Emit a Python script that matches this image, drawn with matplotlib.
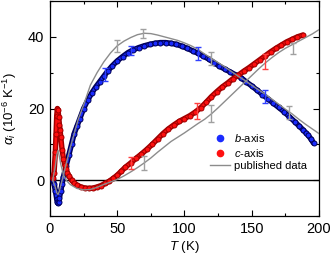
import matplotlib
matplotlib.use('Agg')
import matplotlib.pyplot as plt
import matplotlib.patheffects as pe
from matplotlib.ticker import MultipleLocator
from matplotlib.lines import Line2D

plt.rcParams['font.family'] = 'Liberation Sans'
plt.rcParams['mathtext.fontset'] = 'custom'
plt.rcParams['mathtext.rm'] = 'Liberation Sans'
plt.rcParams['mathtext.it'] = 'Liberation Sans:italic'

# b-axis (measured)
T_b = [2, 3, 4, 5, 5.5, 6, 6.5, 7, 8, 9, 10, 12, 14, 16, 18, 20, 22, 25, 28, 31, 34,
       37, 40, 43, 46, 50, 54, 58, 62, 66, 70, 74, 78, 82, 86, 90, 94, 98, 102, 106,
       110, 114, 118, 122, 126, 130, 134, 138, 142, 146, 150, 154, 158, 162, 166,
       170, 174, 178, 182, 185, 188, 190, 192, 194, 196]
a_b = [0, -1, -3, -5.2, -6.2, -6.5, -6, -5, -3, -1, 1, 4, 7, 10, 13, 15, 17, 20,
       22.3, 24.3, 26, 27.5, 29, 30.5, 31.8, 33.3, 34.5, 35.6, 36.4, 37, 37.5, 37.9,
       38.2, 38.4, 38.4, 38.2, 37.9, 37.4, 36.8, 36.1,
       35.4, 34.6, 33.8, 32.8, 31.8, 31, 30.2, 29.4, 28.6, 27.4, 26.3, 25.1, 23.9,
       22.7, 21.5, 20.3, 19.1, 17.7, 16.3, 15.2, 14.1, 13.3, 12.5, 11.5, 10.3]

# c-axis (measured)
T_c = [2, 3, 4, 4.5, 5, 5.5, 6, 6.5, 7, 7.5, 8, 9, 10, 11, 12, 13, 14, 16, 18, 20,
       23, 26, 29, 32, 35, 38, 41, 44, 47, 50, 53, 56, 60, 64, 68, 72, 76, 80, 84,
       88, 92, 96, 100, 104, 108, 112, 116, 120, 124, 128, 132, 136, 140, 144, 148,
       152, 156, 160, 164, 168, 172, 176, 180, 184, 188]
a_c = [0.5, 2, 8, 13, 18, 20, 19.5, 17.5, 15.5, 14, 12, 8.5, 6, 4.3, 3, 2, 1.2, 0,
       -0.8, -1.4, -1.9, -2.2, -2.3, -2.2, -1.9, -1.5, -0.9, -0.3, 0.5, 1.4, 2.5,
       3.6, 4.8, 6.1, 7.3, 8.6, 10, 11.5, 13, 14.3, 15.4, 16.4, 17.2, 18, 19, 20.2,
       21.7, 23.3, 24.7, 26, 27.1, 28.3, 29.3, 30.4, 31.4, 32.5, 33.6, 34.7, 35.8,
       36.8, 37.7, 38.6, 39.3, 40, 40.5]

# published b-axis
T_pb = [2, 4, 5, 6, 7, 8, 10, 12, 15, 18, 21, 25, 30, 35, 40, 45, 50, 55, 60, 65,
        70, 75, 80, 85, 90, 95, 100, 105, 110, 115, 120, 125, 130, 135, 140, 145,
        150, 155, 160, 165, 170, 175, 180, 185, 190, 195, 200]
a_pb = [0, -2, -3.5, -4, -3, -1.5, 1.5, 4.5, 9, 13, 17, 21, 26.5, 30, 33, 35.5,
        37.5, 38.8, 39.8, 40.6, 41, 40.9, 40.5, 40, 39.5, 39, 38.3, 37.5, 36.5,
        35.2, 34, 32.8, 31.6, 30.3, 29, 27.8, 26.5, 25.2, 24, 22.6, 21.2, 19.8,
        18.5, 17, 15.6, 14.3, 13]

# published c-axis
T_pc = [2, 4, 5, 6, 7, 8, 10, 12, 15, 20, 25, 30, 35, 40, 45, 50, 55, 60, 65, 70,
        75, 80, 85, 90, 95, 100, 105, 110, 115, 120, 125, 130, 135, 140, 145, 150,
        155, 160, 165, 170, 175, 180, 185, 190, 195, 200]
a_pc = [0, 4, 7, 8.3, 6.5, 4.5, 1.5, 0, -1.2, -2.3, -2.7, -2.6, -2, -1.2, -0.5,
        0.2, 1.2, 2.3, 3.5, 4.8, 6.2, 7.8, 9.3, 10.8, 12, 13.2, 14.5, 15.8, 17,
        18.5, 20.2, 22, 23.8, 25.6, 27.4, 29.2, 31, 32.7, 34.2, 35.6, 36.8, 37.8,
        38.8, 39.8, 40.8, 42]

# error bars
eb_T_b = [41, 60, 110, 160]
eb_a_b = [29.6, 36.2, 35.4, 23.3]
eb_e_b = [1.8, 1.2, 1.8, 1.9]
eb_T_c = [60, 109, 160]
eb_a_c = [4.8, 19.3, 33.2]
eb_e_c = [1.7, 2.2, 2.1]
eb_T_p = [50, 69, 120, 178, 70, 120, 181]
eb_a_p = [37.5, 41, 34, 19, 4.8, 18.7, 36.8]
eb_e_p = [1.6, 1.2, 1.8, 1.8, 2, 2.4, 1.6]

blue, navy = '#1a2bff', '#00005a'
red, dred = '#ff1010', '#a00000'
grey = '#8c8c8c'

fig = plt.figure(figsize=(3.32, 2.57), dpi=100)
ax = fig.add_axes([0.1506, 0.1595, 0.8102, 0.8366])

ax.axhline(0, color='black', lw=1.0, zorder=1)

# measured data: thick band with dark rim, plus circle markers
ax.plot(T_b, a_b, '-', color=blue, lw=1.8, solid_capstyle='round', zorder=3,
        path_effects=[pe.Stroke(linewidth=3.9, foreground=navy), pe.Normal()])
ax.plot(T_b, a_b, 'o', ms=3.6, mfc=blue, mec=navy, mew=0.7, zorder=3)
ax.plot(T_c, a_c, '-', color=red, lw=1.8, solid_capstyle='round', zorder=3,
        path_effects=[pe.Stroke(linewidth=3.9, foreground=dred), pe.Normal()])
ax.plot(T_c, a_c, 'o', ms=3.6, mfc=red, mec=dred, mew=0.7, zorder=3)

ax.plot(T_pb, a_pb, '-', color=grey, lw=1.0, zorder=4)
ax.plot(T_pc, a_pc, '-', color=grey, lw=1.0, zorder=4)

ax.errorbar(eb_T_b, eb_a_b, yerr=eb_e_b, fmt='none', ecolor='#3040ff', elinewidth=1.0, capsize=2, capthick=1.0, zorder=5)
ax.errorbar(eb_T_c, eb_a_c, yerr=eb_e_c, fmt='none', ecolor='#ff4040', elinewidth=1.0, capsize=2, capthick=1.0, zorder=5)
ax.errorbar(eb_T_p, eb_a_p, yerr=eb_e_p, fmt='none', ecolor='#a0a0a0', elinewidth=1.0, capsize=2, capthick=1.0, zorder=5)

ax.set_xlim(0, 200)
ax.set_ylim(-10, 50)
ax.xaxis.set_major_locator(MultipleLocator(50))
ax.xaxis.set_minor_locator(MultipleLocator(25))
ax.yaxis.set_major_locator(MultipleLocator(20))
ax.yaxis.set_minor_locator(MultipleLocator(10))
ax.tick_params(which='both', direction='in', top=True, right=True, labelsize=10.5, width=0.8)
ax.tick_params(which='major', length=4, pad=4)
ax.tick_params(which='minor', length=2)
for s in ax.spines.values():
    s.set_linewidth(0.9)

ax.set_xlabel(r'$T$ (K)', fontsize=9.5)
ax.set_ylabel(r'$\alpha_i$ (10$^{-6}$ K$^{-1}$)', fontsize=9.5)
ax.xaxis.set_label_coords(0.5, -0.105)
ax.yaxis.set_label_coords(-0.115, 0.5)

handles = [
    Line2D([], [], ls='none', marker='o', ms=4.5, mfc=blue, mec=blue),
    Line2D([], [], ls='none', marker='o', ms=4.5, mfc=red, mec=red),
    Line2D([], [], color=grey, lw=1.0),
]
ax.legend(handles, [r'$b$-axis', r'$c$-axis', 'published data'], frameon=False,
          fontsize=8, loc='upper left', bbox_to_anchor=(0.575, 0.415),
          handlelength=1.8, handletextpad=0.35, labelspacing=0.22, borderpad=0)

fig.savefig('out.png', dpi=100)
